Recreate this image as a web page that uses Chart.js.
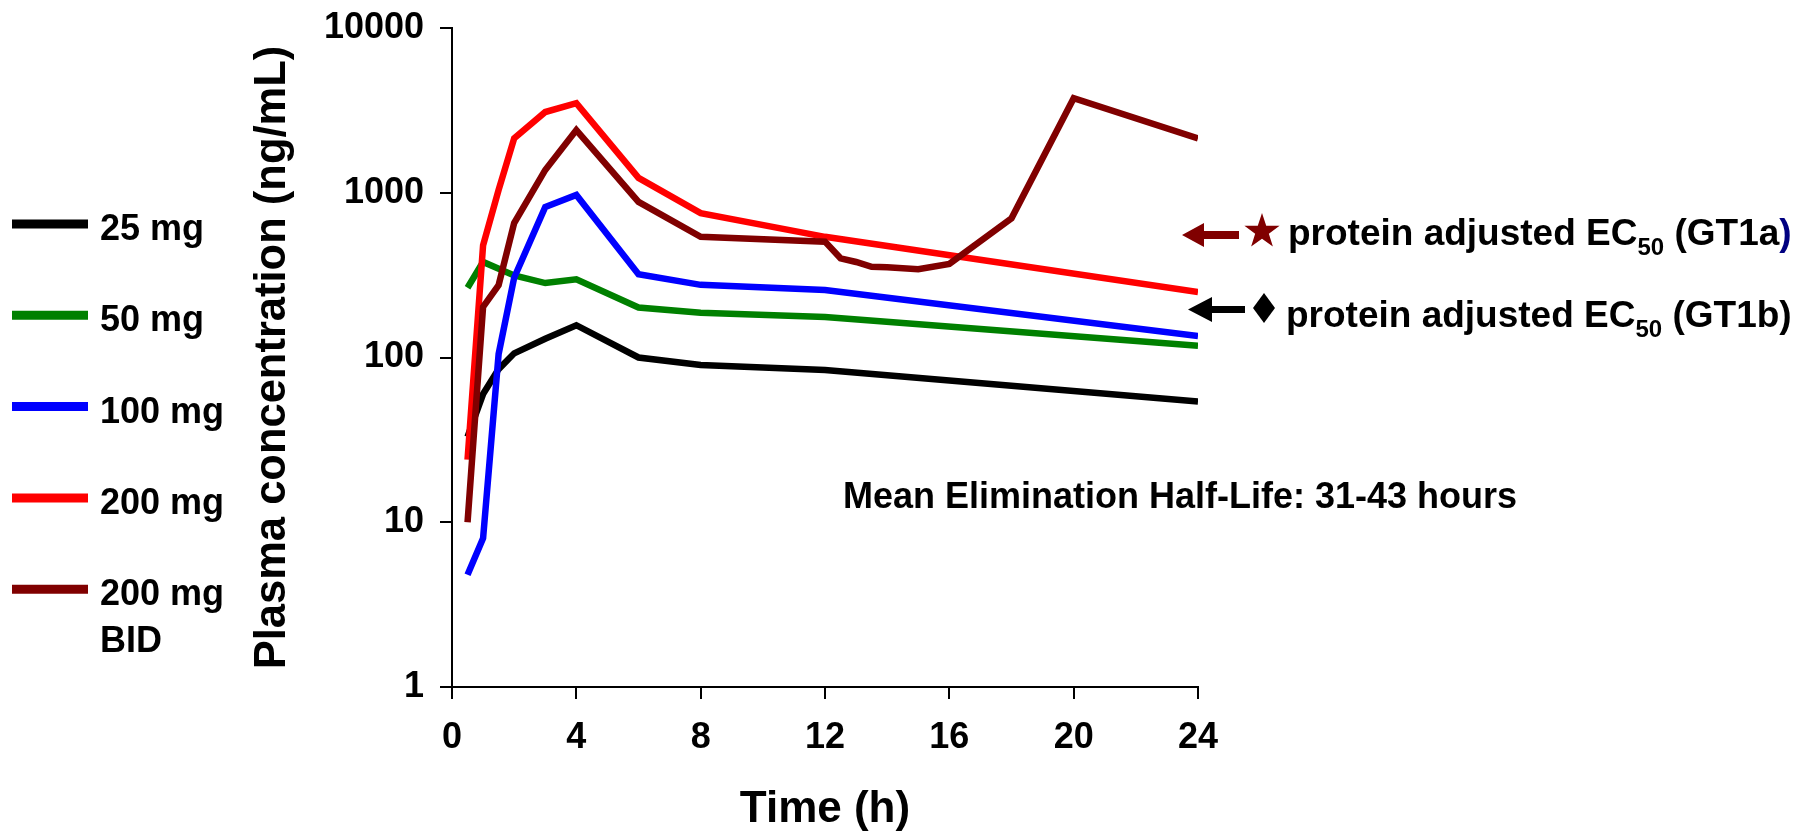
<!DOCTYPE html>
<html>
<head>
<meta charset="utf-8">
<title>Plasma concentration</title>
<script src="https://cdn.jsdelivr.net/npm/chart.js@4.4.0/dist/chart.umd.min.js"></script>
<style>
  html, body { margin: 0; padding: 0; background: #fff; }
  #wrap { width: 1799px; height: 836px; }
</style>
</head>
<body>
<div id="wrap"><canvas id="chartPK" width="1799" height="836"></canvas></div>
<script>
// series (time in h, concentration in ng/mL)
const seriesLabels = ['25 mg', '50 mg', '100 mg', '200 mg', '200 mg BID'];
const legendLines = [['25 mg'], ['50 mg'], ['100 mg'], ['200 mg'], ['200 mg', 'BID']];
const seriesColors = ['#000000', '#008000', '#0000ff', '#ff0000', '#800000'];

const time25 = [0.5, 1, 1.5, 2, 3, 4, 6, 8, 12, 24];
const conc25 = [33, 60, 85, 106, 130, 157, 100, 90, 84, 54];

const time50 = [0.5, 1, 2, 3, 4, 6, 8, 12, 24];
const conc50 = [265, 380, 315, 283, 298, 201, 187, 176, 118];

const time100 = [0.5, 1, 1.5, 2, 3, 4, 6, 8, 12, 24];
const conc100 = [4.8, 8, 105, 305, 820, 970, 320, 276, 257, 135];

const time200 = [0.5, 1, 1.5, 2, 3, 4, 6, 8, 12, 24];
const conc200 = [24, 480, 1040, 2140, 3090, 3500, 1230, 752, 540, 250];

const timeBID = [0.5, 1, 1.5, 2, 3, 4, 6, 8, 12, 12.5, 13, 13.5, 14, 15, 16, 18, 20, 24];
const concBID = [10, 203, 275, 655, 1375, 2400, 880, 540, 505, 400, 380, 355, 353, 343, 370, 700, 3750, 2140];

const allTimes = [time25, time50, time100, time200, timeBID];
const allConcs = [conc25, conc50, conc100, conc200, concBID];

const xTicks = [0, 4, 8, 12, 16, 20, 24];
const yTicks = [1, 10, 100, 1000, 10000];

const halfLifeNote = 'Mean Elimination Half-Life: 31-43 hours';
const ec50Genotypes = ['GT1a', 'GT1b'];

const FONT = "'Liberation Sans', Arial, sans-serif";

var datasets = [];
for (var i = 0; i < seriesLabels.length; i++) {
	datasets.push({
		label: seriesLabels[i],
		data: allTimes[i].map(function (t, k) { return { x: t, y: allConcs[i][k] }; }),
		borderColor: seriesColors[i],
		backgroundColor: seriesColors[i],
		borderWidth: 6.5,
		fill: false,
		tension: 0,
		pointRadius: 0,
		order: seriesLabels.length - i   // later series on top, like the original
	});
}

function drawArrow(ctx, tipX, y, headLen, headHalf, shaftEnd, shaftHalf, color) {
	ctx.fillStyle = color;
	ctx.beginPath();
	ctx.moveTo(tipX, y);
	ctx.lineTo(tipX + headLen, y - headHalf);
	ctx.lineTo(tipX + headLen, y - shaftHalf);
	ctx.lineTo(shaftEnd, y - shaftHalf);
	ctx.lineTo(shaftEnd, y + shaftHalf);
	ctx.lineTo(tipX + headLen, y + shaftHalf);
	ctx.lineTo(tipX + headLen, y + headHalf);
	ctx.closePath();
	ctx.fill();
}

function drawStar(ctx, cx, cy, R, r, color) {
	ctx.fillStyle = color;
	ctx.beginPath();
	for (var k = 0; k < 10; k++) {
		var a = -Math.PI / 2 + k * Math.PI / 5;
		var rad = (k % 2 === 0) ? R : r;
		var px = cx + rad * Math.cos(a), py = cy + rad * Math.sin(a);
		if (k === 0) ctx.moveTo(px, py); else ctx.lineTo(px, py);
	}
	ctx.closePath();
	ctx.fill();
}

function drawDiamond(ctx, cx, cy, hw, hh, color) {
	ctx.fillStyle = color;
	ctx.beginPath();
	ctx.moveTo(cx, cy - hh);
	ctx.lineTo(cx + hw, cy);
	ctx.lineTo(cx, cy + hh);
	ctx.lineTo(cx - hw, cy);
	ctx.closePath();
	ctx.fill();
}

function drawEC50(ctx, x, base, genotype, closeColor) {
	ctx.textAlign = 'left';
	ctx.textBaseline = 'alphabetic';
	ctx.fillStyle = '#000';
	ctx.font = 'bold 37px ' + FONT;
	var s1 = 'protein adjusted EC';
	ctx.fillText(s1, x, base);
	x += ctx.measureText(s1).width;
	ctx.font = 'bold 24px ' + FONT;
	ctx.fillText('50', x, base + 10);
	x += ctx.measureText('50').width;
	ctx.font = 'bold 37px ' + FONT;
	var s2 = ' (' + genotype;
	ctx.fillText(s2, x, base);
	x += ctx.measureText(s2).width;
	ctx.fillStyle = closeColor;
	ctx.fillText(')', x, base);
}

const extrasPlugin = {
	id: 'extras',
	afterDraw: function (chart) {
		var ctx = chart.ctx;
		ctx.save();

		// legend on the left
		chart.data.datasets.forEach(function (ds, i) {
			var y = 224 + i * 91.3;
			ctx.strokeStyle = ds.borderColor;
			ctx.lineWidth = 9;
			ctx.lineCap = 'butt';
			ctx.beginPath();
			ctx.moveTo(12, y);
			ctx.lineTo(88, y);
			ctx.stroke();
			ctx.fillStyle = '#000';
			ctx.font = 'bold 36px ' + FONT;
			ctx.textAlign = 'left';
			ctx.textBaseline = 'alphabetic';
			legendLines[i].forEach(function (t, k) {
				ctx.fillText(t, 100, y + 16 + k * 47);
			});
		});

		// half-life note
		ctx.fillStyle = '#000';
		ctx.font = 'bold 36px ' + FONT;
		ctx.textAlign = 'left';
		ctx.textBaseline = 'alphabetic';
		ctx.fillText(halfLifeNote, 843, 508);

		// EC50 markers on the right
		drawArrow(ctx, 1182, 235, 22, 12, 1239, 4, '#800000');
		drawStar(ctx, 1262, 231.5, 18.5, 7.2, '#800000');
		drawEC50(ctx, 1288, 245, ec50Genotypes[0], '#000080');

		drawArrow(ctx, 1188, 309.5, 24, 12.5, 1245, 3.5, '#000000');
		drawDiamond(ctx, 1264, 308, 11, 15, '#000000');
		drawEC50(ctx, 1286, 327, ec50Genotypes[1], '#000000');

		ctx.restore();
	}
};

const ctxPK = document.getElementById('chartPK').getContext('2d');

var chartPK = new Chart(ctxPK, {
	type: 'line',
	data: { datasets: datasets },
	options: {
		responsive: false,
		animation: false,
		layout: { padding: { left: 247, right: 601, top: 28, bottom: 0 } },
		plugins: {
			legend: { display: false },
			tooltip: { enabled: false }
		},
		scales: {
			x: {
				type: 'linear',
				min: 0,
				max: 24,
				afterBuildTicks: function (s) { s.ticks = xTicks.map(function (v) { return { value: v }; }); },
				afterFit: function (s) { s.height = 149; },
				grid: { drawOnChartArea: false, drawTicks: true, tickLength: 12, color: '#000', lineWidth: 2 },
				border: { display: true, color: '#000', width: 2 },
				ticks: {
					padding: 17,
					color: '#000',
					maxRotation: 0,
					autoSkip: false,
					font: { family: FONT, size: 36, weight: 'bold' },
					callback: function (v) { return String(v); }
				},
				title: {
					display: true,
					text: 'Time (h)',
					color: '#000',
					font: { family: FONT, size: 44, weight: 'bold' },
					padding: { top: 0, bottom: 0 }
				}
			},
			y: {
				type: 'logarithmic',
				min: 1,
				max: 10000,
				afterBuildTicks: function (s) { s.ticks = yTicks.map(function (v) { return { value: v }; }); },
				afterFit: function (s) { s.width = 205; },
				grid: { drawOnChartArea: false, drawTicks: true, tickLength: 12, color: '#000', lineWidth: 2 },
				border: { display: true, color: '#000', width: 2 },
				ticks: {
					padding: 16,
					color: '#000',
					autoSkip: false,
					font: { family: FONT, size: 36, weight: 'bold', lineHeight: 0.6 },
					callback: function (v) { return String(v); }
				},
				title: {
					display: true,
					text: 'Plasma concentration (ng/mL)',
					color: '#000',
					font: { family: FONT, size: 43.5, weight: 'bold' },
					padding: { top: 0, bottom: 0 }
				}
			}
		}
	},
	plugins: [extrasPlugin]
});
</script>
</body>
</html>
